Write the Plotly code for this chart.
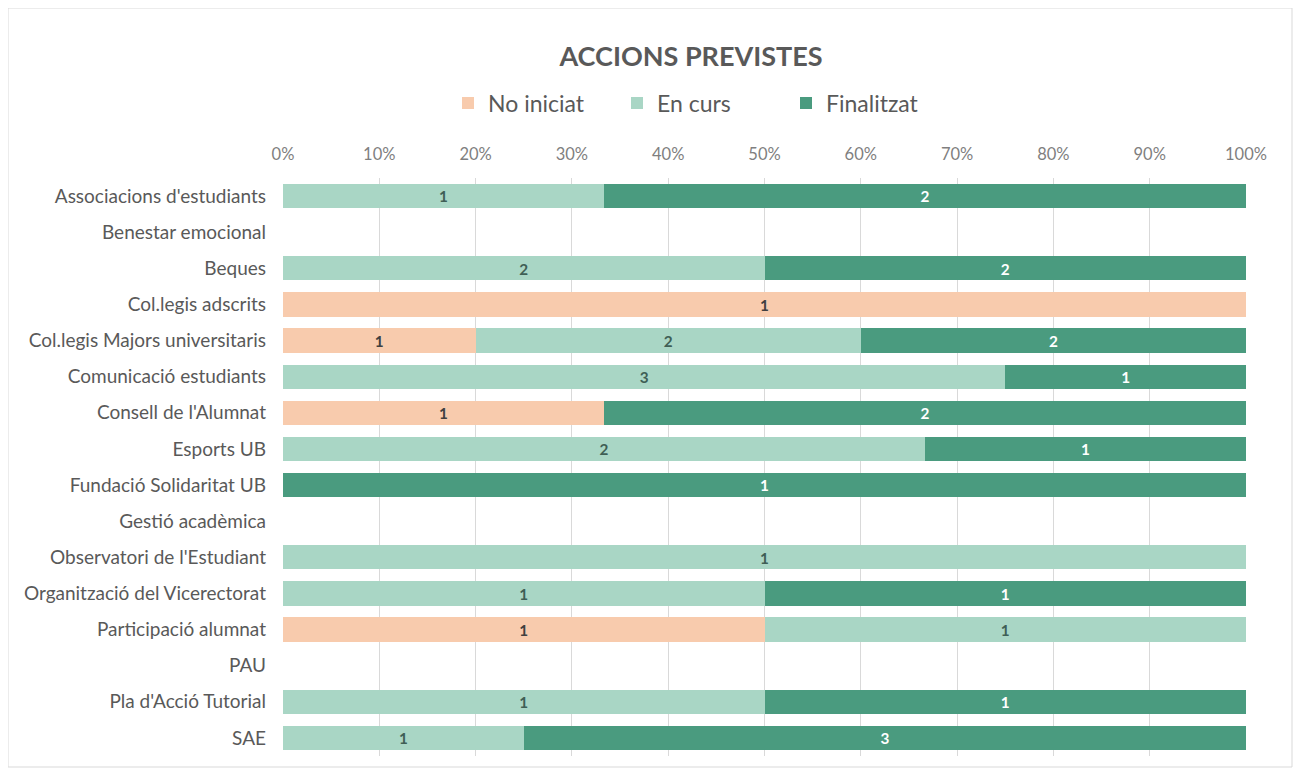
import plotly.graph_objects as go

categories = [
    "Associacions d'estudiants", "Benestar emocional", "Beques", "Col.legis adscrits",
    "Col.legis Majors universitaris", "Comunicació estudiants", "Consell de l'Alumnat",
    "Esports UB", "Fundació Solidaritat UB", "Gestió acadèmica", "Observatori de l'Estudiant",
    "Organització del Vicerectorat", "Participació alumnat", "PAU", "Pla d'Acció Tutorial", "SAE",
]
no_iniciat = [0, 0, 0, 1, 1, 0, 1, 0, 0, 0, 0, 0, 1, 0, 0, 0]
en_curs    = [1, 0, 2, 0, 2, 3, 0, 2, 0, 0, 1, 1, 1, 0, 1, 1]
finalitzat = [2, 0, 2, 0, 2, 1, 2, 1, 1, 0, 0, 1, 0, 0, 1, 3]
tick_vals = [0, 10, 20, 30, 40, 50, 60, 70, 80, 90, 100]
tick_text = [f"{v}%" for v in tick_vals]

series = [
    ("No iniciat", no_iniciat, "#F8CBAD", "#404040"),
    ("En curs", en_curs, "#A9D6C5", "#3F5F55"),
    ("Finalitzat", finalitzat, "#4A9B7F", "#FFFFFF"),
]

FONT = "Lato"
fig = go.Figure()
for name, vals, col, tcol in series:
    fig.add_trace(go.Bar(
        name=name, y=categories, x=vals, orientation="h",
        marker=dict(color=col, line=dict(width=0)),
        text=[str(v) if v else "" for v in vals],
        textposition="inside", insidetextanchor="middle", textangle=0,
        insidetextfont=dict(family=FONT, size=16, color=tcol, weight="bold"),
        hoverinfo="skip",
    ))

# page body has an 8px margin; figure coordinates are offset by 8px
OFF = 8
W, H = 1301 - 2 * OFF, 776 - 2 * OFF
L, R, T, B = 283 - OFF, 1246 - OFF, 178 - OFF, 756 - OFF
pw, ph = R - L, B - T

fig.update_layout(
    width=W, height=H, barmode="stack", barnorm="percent", bargap=0.33,
    margin=dict(l=L, r=W - R, t=T, b=H - B),
    paper_bgcolor="white", plot_bgcolor="white",
    font=dict(family=FONT, color="#595959"),
    title=dict(text="<b>ACCIONS PREVISTES</b>", x=(691 - OFF) / W, xanchor="center",
               y=1 - (57 - OFF) / H, yanchor="middle",
               font=dict(size=27, color="#595959", family=FONT)),
    legend=dict(orientation="h", xref="container", yref="container", x=(448 - OFF) / W,
                xanchor="left", y=1 - (103 - OFF) / H, yanchor="middle",
                font=dict(size=23, color="#595959", family=FONT),
                entrywidth=124, entrywidthmode="pixels",
                traceorder="normal", itemsizing="constant"),
    showlegend=True,
)
fig.update_xaxes(side="top", range=[0, 100], tickvals=tick_vals, ticktext=tick_text,
                 showgrid=True, gridcolor="#D9D9D9", gridwidth=1, zeroline=False,
                 showline=False, tickfont=dict(size=16.5, color="#7F7F7F", family=FONT),
                 ticks="", ticklabelstandoff=14, fixedrange=True)
fig.update_yaxes(autorange="reversed", showgrid=False, showline=False, ticks="",
                 tickfont=dict(size=19, color="#595959", family=FONT),
                 ticklabelstandoff=16, fixedrange=True)

fig.add_shape(type="rect", xref="paper", yref="paper",
              x0=(0 - L) / pw, x1=(W - 1 - L) / pw,
              y0=(B - (H - 1)) / ph, y1=(B - 0) / ph,
              line=dict(color="#D9D9D9", width=1), fillcolor="rgba(0,0,0,0)", layer="below")

fig.write_html("out.html")
